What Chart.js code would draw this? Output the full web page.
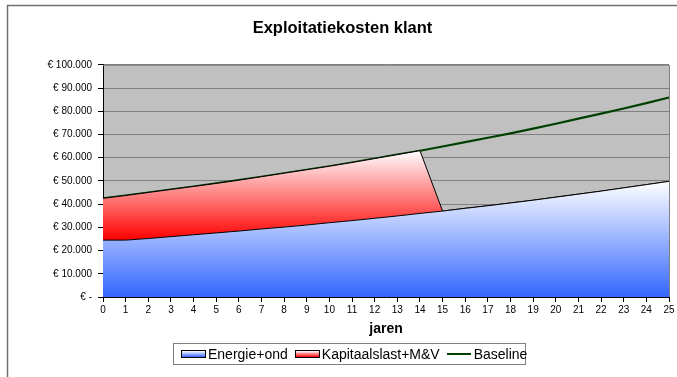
<!DOCTYPE html>
<html>
<head>
<meta charset="utf-8">
<script src="https://cdn.jsdelivr.net/npm/chart.js@4.4.1/dist/chart.umd.min.js"></script>
<style>
  html, body { margin: 0; padding: 0; background: #fff; }
  .wrap { position: relative; width: 677px; height: 377px; }
  canvas { position: absolute; left: 0; top: 0; }
  .legend {
    position: absolute; left: 173px; top: 343px; width: 351px; height: 20px;
    border: 1px solid #808080; background: #fff;
    font-family: "Liberation Sans", Arial, sans-serif; font-size: 14px; color: #000;
    display: flex; align-items: center; white-space: nowrap;
  }
  .legend .item { display: flex; align-items: center; margin-left: 7px; }
  .legend .sw { width: 23px; height: 6px; border: 1px solid #000; margin-right: 2px; }
  .legend .ln { width: 24px; height: 2px; background: #004000; margin-right: 3px; }
</style>
</head>
<body>
<div class="wrap">
  <canvas id="kostenChart" width="677" height="377"></canvas>
  <div class="legend">
    <div class="item"><span class="sw" style="background: linear-gradient(#ffffff, #3366ff)"></span>Energie+ond</div>
    <div class="item"><span class="sw" style="background: linear-gradient(#ffffff, #ff0000)"></span>Kapitaalslast+M&amp;V</div>
    <div class="item"><span class="ln"></span>Baseline</div>
  </div>
</div>
<script>
const jaren = ["0","1","2","3","4","5","6","7","8","9","10","11","12","13","14","15","16","17","18","19","20","21","22","23","24","25"];

const energie = [24500, 24500, 25200, 26000, 26800, 27600, 28400, 29300, 30100, 31000, 32000, 32900, 33900,
    34900, 36000, 37000, 38200, 39300, 40500, 41700, 43000, 44300, 45600, 47000, 48400, 49800];

const kapitaal = [18000, 19200, 19800, 20300, 20800, 21300, 21900, 22500, 23200, 23800, 24300, 25000, 25700,
    26400, 27000, 0, 0, 0, 0, 0, 0, 0, 0, 0, 0, 0];

const baseline = [42500, 43700, 45000, 46300, 47600, 48900, 50300, 51800, 53300, 54800, 56300, 57900, 59600,
    61300, 63000, 64800, 66700, 68600, 70500, 72500, 74600, 76800, 79000, 81200, 83500, 85900];

const euro = (v) => {
    if (v === 0) return "€ -";
    return "€ " + String(v).replace(/\B(?=(\d{3})+(?!\d))/g, ".");
};

// gradient from white at the highest point of the area to full colour at its lowest
const areaGradient = (topValue, bottomValue, color) => (context) => {
    const chart = context.chart;
    if (!chart.chartArea) return color;
    const y = chart.scales.y;
    const g = chart.ctx.createLinearGradient(0, y.getPixelForValue(topValue), 0, y.getPixelForValue(bottomValue));
    g.addColorStop(0, "#ffffff");
    g.addColorStop(1, color);
    return g;
};

const redTops = energie.map((e, i) => e + kapitaal[i]).filter((v, i) => kapitaal[i] > 0);
const redBottoms = energie.filter((v, i) => kapitaal[i] > 0);

const frame = {
    id: "frame",
    beforeDraw(chart) {
        const { ctx, chartArea: a } = chart;
        ctx.save();
        ctx.fillStyle = "#c0c0c0";
        ctx.fillRect(a.left, a.top, a.right - a.left, a.bottom - a.top);
        ctx.restore();
    },
    afterDraw(chart) {
        const { ctx, chartArea: a } = chart;
        ctx.save();
        ctx.strokeStyle = "#808080";
        ctx.lineWidth = 1;
        ctx.beginPath();
        ctx.moveTo(a.left, a.top + 0.5);
        ctx.lineTo(a.right + 0.5, a.top + 0.5);
        ctx.lineTo(a.right + 0.5, a.bottom);
        ctx.stroke();
        // outer chart border
        ctx.strokeStyle = "#707070";
        ctx.lineWidth = 1.5;
        ctx.beginPath();
        ctx.moveTo(7.5, 377);
        ctx.lineTo(7.5, 5.5);
        ctx.lineTo(677, 5.5);
        ctx.stroke();
        ctx.restore();
    }
};

const ctx = document.getElementById("kostenChart").getContext("2d");

new Chart(ctx, {
    type: "line",
    data: {
        labels: jaren,
        datasets: [
            {
                label: "Energie+ond",
                data: energie,
                stack: "kosten",
                fill: "origin",
                backgroundColor: areaGradient(Math.max(...energie), 0, "#3366ff"),
                borderColor: "#000000",
                borderWidth: 1,
                pointRadius: 0,
                tension: 0,
            },
            {
                label: "Kapitaalslast+M&V",
                data: kapitaal,
                stack: "kosten",
                fill: "-1",
                backgroundColor: areaGradient(Math.max(...redTops), Math.min(...redBottoms), "#ff0000"),
                borderColor: "#000000",
                borderWidth: 1,
                pointRadius: 0,
                tension: 0,
            },
            {
                label: "Baseline",
                data: baseline,
                stack: "baseline",
                fill: false,
                borderColor: "#004000",
                borderWidth: 2.2,
                pointRadius: 0,
                tension: 0,
            },
        ],
    },
    options: {
        responsive: false,
        animation: false,
        events: [],
        layout: {
            padding: { left: 16, right: 8, top: 0, bottom: 35 },
        },
        scales: {
            x: {
                offset: false,
                grid: {
                    drawOnChartArea: false,
                    drawTicks: true,
                    tickLength: 5,
                    tickColor: "#000000",
                },
                border: { color: "#000000", width: 1 },
                ticks: {
                    color: "#000000",
                    padding: 2,
                    maxRotation: 0,
                    autoSkip: false,
                    font: { family: "'Liberation Sans', Arial, sans-serif", size: 10 },
                },
                title: {
                    display: true,
                    text: "jaren",
                    color: "#000000",
                    padding: { top: 4, bottom: 4 },
                    font: { family: "'Liberation Sans', Arial, sans-serif", size: 14, weight: "bold" },
                },
                afterFit: (s) => { s.height = 45; },
            },
            y: {
                stacked: true,
                min: 0,
                max: 100000,
                grid: {
                    color: "#808080",
                    tickColor: "#000000",
                    tickLength: 5,
                },
                border: { color: "#000000", width: 1 },
                ticks: {
                    stepSize: 10000,
                    color: "#000000",
                    padding: 6,
                    callback: (v) => euro(v),
                    font: { family: "'Liberation Sans', Arial, sans-serif", size: 10 },
                },
                afterFit: (s) => { s.width = 87; },
            },
        },
        plugins: {
            legend: { display: false },
            tooltip: { enabled: false },
            title: {
                display: true,
                text: "Exploitatiekosten klant",
                color: "#000000",
                padding: { top: 19, bottom: 26 },
                font: { family: "'Liberation Sans', Arial, sans-serif", size: 16.5, weight: "bold" },
            },
        },
    },
    plugins: [frame],
});
</script>
</body>
</html>
